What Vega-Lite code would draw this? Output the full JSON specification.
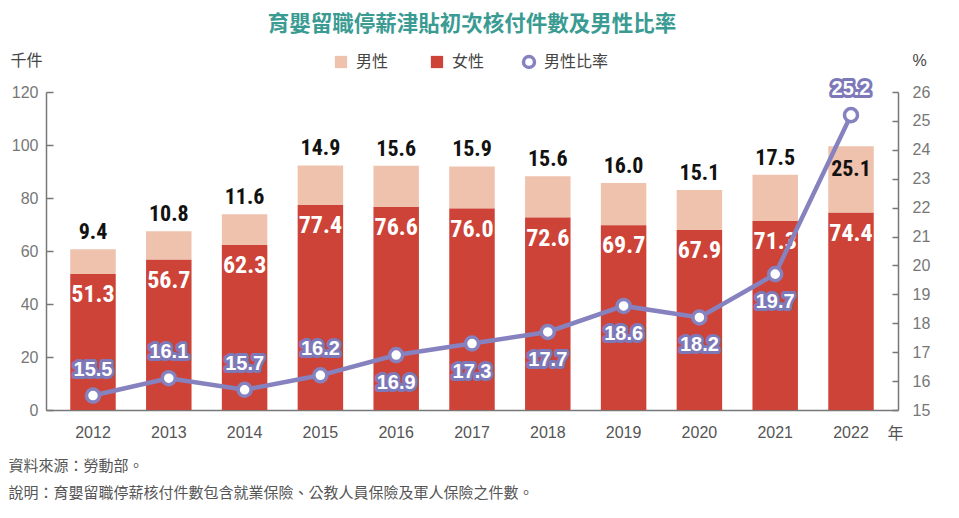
{
  "$schema": "https://vega.github.io/schema/vega-lite/v6.json",
  "width": 852,
  "height": 318,
  "autosize": "none",
  "padding": {"left": 46, "top": 92, "right": 61, "bottom": 108},
  "background": "white",
  "title": {
    "text": "育嬰留職停薪津貼初次核付件數及男性比率",
    "anchor": "middle",
    "font": "Noto Sans CJK TC",
    "fontSize": 21.5,
    "fontWeight": "bold",
    "color": "#3a9b92",
    "offset": 17
  },
  "config": {
    "view": {"stroke": null},
    "font": "Noto Sans CJK TC"
  },
  "data": {
    "values": [
      {"年": "2012", "女性": 51.3, "男性": 9.4, "男性比率": 15.5},
      {"年": "2013", "女性": 56.7, "男性": 10.8, "男性比率": 16.1},
      {"年": "2014", "女性": 62.3, "男性": 11.6, "男性比率": 15.7},
      {"年": "2015", "女性": 77.4, "男性": 14.9, "男性比率": 16.2},
      {"年": "2016", "女性": 76.6, "男性": 15.6, "男性比率": 16.9},
      {"年": "2017", "女性": 76.0, "男性": 15.9, "男性比率": 17.3},
      {"年": "2018", "女性": 72.6, "男性": 15.6, "男性比率": 17.7},
      {"年": "2019", "女性": 69.7, "男性": 16.0, "男性比率": 18.6},
      {"年": "2020", "女性": 67.9, "男性": 15.1, "男性比率": 18.2},
      {"年": "2021", "女性": 71.3, "男性": 17.5, "男性比率": 19.7},
      {"年": "2022", "女性": 74.4, "男性": 25.1, "男性比率": 25.2}
    ]
  },
  "layer": [
    {
      "transform": [
        {"fold": ["男性", "女性"], "as": ["性別", "千件"]},
        {"stack": "千件", "groupby": ["年"], "sort": [{"field": "性別", "order": "ascending"}], "as": ["下緣", "上緣"]}
      ],
      "encoding": {
        "x": {
          "field": "年",
          "type": "ordinal",
          "scale": {"paddingInner": 0.4, "paddingOuter": 0.32},
          "axis": {
            "orient": "bottom",
            "labelAngle": 0,
            "labelFont": "Liberation Sans",
            "labelFontSize": 16,
            "labelColor": "#555555",
            "labelPadding": 14,
            "ticks": false,
            "domainColor": "#777777",
            "domainWidth": 1.5,
            "title": "年",
            "titleX": 849,
            "titleY": 23,
            "titleAlign": "center",
            "titleBaseline": "middle",
            "titleFont": "Noto Sans CJK TC",
            "titleFontSize": 16,
            "titleFontWeight": "normal",
            "titleColor": "#555555"
          }
        },
        "y": {
          "field": "上緣",
          "type": "quantitative",
          "scale": {"domain": [0, 120], "nice": false},
          "axis": {
            "orient": "left",
            "values": [0, 20, 40, 60, 80, 100, 120],
            "grid": false,
            "tickSize": -7,
            "tickColor": "#777777",
            "tickWidth": 1.5,
            "domainColor": "#777777",
            "domainWidth": 1.5,
            "labelPadding": 15,
            "labelFont": "Liberation Sans",
            "labelFontSize": 16,
            "labelColor": "#777777",
            "title": "千件",
            "titleAngle": 0,
            "titleX": -36,
            "titleY": -32,
            "titleAlign": "left",
            "titleBaseline": "middle",
            "titleFont": "Noto Sans CJK TC",
            "titleFontSize": 16,
            "titleFontWeight": "normal",
            "titleColor": "#444444"
          }
        }
      },
      "layer": [
        {
          "mark": {"type": "bar"},
          "encoding": {
            "y2": {"field": "下緣"},
            "color": {
              "field": "性別",
              "type": "nominal",
              "scale": {"domain": ["男性", "女性"], "range": ["#efc2ad", "#cd4338"]},
              "legend": {
                "orient": "none",
                "legendX": 287,
                "legendY": -38,
                "direction": "horizontal",
                "title": null,
                "symbolType": "square",
                "symbolSize": 150,
                "symbolStrokeWidth": 0,
                "labelFont": "Noto Sans CJK TC",
                "labelFontSize": 16,
                "labelColor": "#444444",
                "labelOffset": 7,
                "columnPadding": 40
              }
            }
          }
        },
        {
          "transform": [{"filter": {"field": "性別", "equal": "女性"}}],
          "mark": {"type": "text", "dy": 21, "align": "center", "baseline": "middle", "color": "white", "font": "Roboto Condensed, Liberation Sans Narrow, Liberation Sans, sans-serif", "fontWeight": "bold", "fontSize": 24},
          "encoding": {"text": {"field": "千件", "type": "quantitative", "format": ".1f"}}
        },
        {
          "transform": [{"filter": "datum['性別'] === '男性' && datum['年'] !== '2022'"}],
          "mark": {"type": "text", "dy": -17, "align": "center", "baseline": "middle", "color": "#111111", "font": "Roboto Condensed, Liberation Sans Narrow, Liberation Sans, sans-serif", "fontWeight": "bold", "fontSize": 22},
          "encoding": {"text": {"field": "千件", "type": "quantitative", "format": ".1f"}}
        },
        {
          "transform": [{"filter": "datum['性別'] === '男性' && datum['年'] === '2022'"}],
          "mark": {"type": "text", "dy": 23, "align": "center", "baseline": "middle", "color": "#111111", "font": "Roboto Condensed, Liberation Sans Narrow, Liberation Sans, sans-serif", "fontWeight": "bold", "fontSize": 22},
          "encoding": {"text": {"field": "千件", "type": "quantitative", "format": ".1f"}}
        }
      ]
    },
    {
      "encoding": {
        "x": {
          "field": "年",
          "type": "ordinal",
          "axis": {
            "orient": "bottom",
            "labels": false,
            "ticks": false,
            "domain": false,
            "title": ["資料來源：勞動部。", "說明：育嬰留職停薪核付件數包含就業保險、公教人員保險及軍人保險之件數。"],
            "titleX": -38,
            "titleY": 48,
            "titleAlign": "left",
            "titleBaseline": "top",
            "titleFont": "Noto Sans CJK TC",
            "titleFontSize": 15,
            "titleFontWeight": "normal",
            "titleColor": "#555555",
            "titleLineHeight": 27
          }
        },
        "y": {
          "field": "男性比率",
          "type": "quantitative",
          "scale": {"domain": [15, 26], "nice": false, "zero": false},
          "axis": {
            "orient": "right",
            "values": [15, 16, 17, 18, 19, 20, 21, 22, 23, 24, 25, 26],
            "grid": false,
            "tickSize": -6,
            "tickColor": "#777777",
            "tickWidth": 1.5,
            "domainColor": "#777777",
            "domainWidth": 1.5,
            "labelPadding": 20,
            "labelFont": "Liberation Sans",
            "labelFontSize": 16,
            "labelColor": "#777777",
            "title": "%",
            "titleAngle": 0,
            "titleX": 14,
            "titleY": -32,
            "titleAlign": "left",
            "titleBaseline": "middle",
            "titleFont": "Liberation Sans",
            "titleFontSize": 16,
            "titleFontWeight": "normal",
            "titleColor": "#444444"
          }
        }
      },
      "layer": [
        {
          "mark": {"type": "line", "strokeWidth": 4.5},
          "encoding": {
            "stroke": {
              "datum": "男性比率",
              "scale": {"range": ["#8582bf"]},
              "legend": {
                "orient": "none",
                "legendX": 475,
                "legendY": -38,
                "title": null,
                "symbolType": "circle",
                "symbolFillColor": "white",
                "symbolStrokeWidth": 3.5,
                "symbolSize": 120,
                "labelFont": "Noto Sans CJK TC",
                "labelFontSize": 16,
                "labelColor": "#444444",
                "labelOffset": 7
              }
            }
          }
        },
        {
          "mark": {"type": "point", "shape": "circle", "filled": true, "fill": "white", "opacity": 1, "size": 170, "strokeWidth": 3.5},
          "encoding": {
            "stroke": {"datum": "男性比率"}
          }
        },
        {
          "transform": [{"filter": {"field": "年", "oneOf": ["2012", "2013", "2014", "2015", "2022"]}}],
          "layer": [
            {
              "mark": {"type": "text", "dy": -26, "align": "center", "baseline": "middle", "fill": "#7d79b8", "stroke": "#7d79b8", "strokeWidth": 6, "strokeJoin": "round", "font": "Liberation Sans", "fontWeight": "bold", "fontSize": 20},
              "encoding": {"text": {"field": "男性比率", "type": "quantitative", "format": ".1f"}}
            },
            {
              "mark": {"type": "text", "dy": -26, "align": "center", "baseline": "middle", "fill": "white", "font": "Liberation Sans", "fontWeight": "bold", "fontSize": 20},
              "encoding": {"text": {"field": "男性比率", "type": "quantitative", "format": ".1f"}}
            }
          ]
        },
        {
          "transform": [{"filter": {"field": "年", "oneOf": ["2016", "2017", "2018", "2019", "2020", "2021"]}}],
          "layer": [
            {
              "mark": {"type": "text", "dy": 28, "align": "center", "baseline": "middle", "fill": "#7d79b8", "stroke": "#7d79b8", "strokeWidth": 6, "strokeJoin": "round", "font": "Liberation Sans", "fontWeight": "bold", "fontSize": 20},
              "encoding": {"text": {"field": "男性比率", "type": "quantitative", "format": ".1f"}}
            },
            {
              "mark": {"type": "text", "dy": 28, "align": "center", "baseline": "middle", "fill": "white", "font": "Liberation Sans", "fontWeight": "bold", "fontSize": 20},
              "encoding": {"text": {"field": "男性比率", "type": "quantitative", "format": ".1f"}}
            }
          ]
        }
      ]
    }
  ],
  "resolve": {"scale": {"y": "independent"}, "axis": {"x": "independent"}}
}
